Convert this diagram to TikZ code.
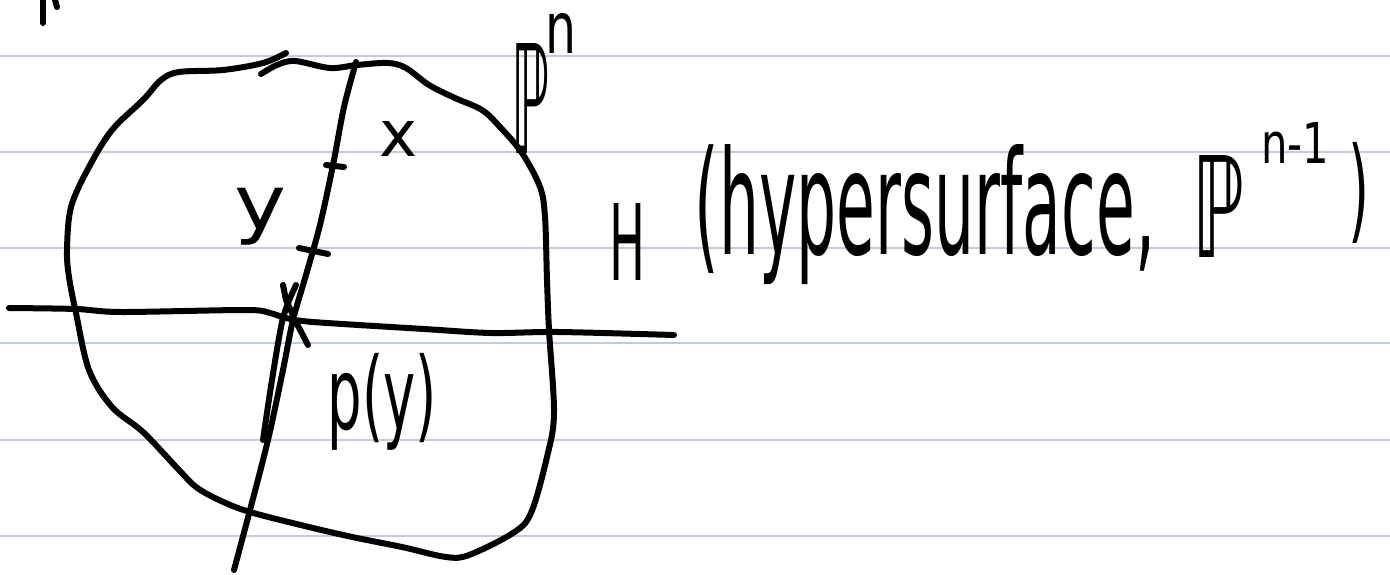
\documentclass[tikz,border=0pt]{standalone}
\usepackage{fontspec}
\setmainfont{DejaVu Sans}
\usepackage{graphicx}
\definecolor{ruleblue}{HTML}{BFCCDD}
\newcommand{\fitbox}[3]{\resizebox*{#1pt}{#2pt}{#3}}
\tikzset{
  ink/.style={line width=6pt, line cap=round, line join=round, draw=black},
  ruled/.style={line width=2pt, draw=ruleblue},
  lbl/.style={inner sep=0pt, outer sep=0pt, anchor=center}
}
\begin{document}
\begin{tikzpicture}[x=1pt,y=-1pt]
\useasboundingbox (0,0) rectangle (1390,575);
\fill[white] (0,0) rectangle (1390,575);
% ruled paper
\foreach \yy in {56,152,248,343,440,536} \draw[ruled] (0,\yy) -- (1390,\yy);
% cut-off remnants at top left
\draw[ink] (43,0) -- (43,23);
\draw[ink] (55,0) -- (57,7);
% closed outline (P^n)
\draw[ink] plot[smooth, tension=0.55] coordinates {
 (261,74) (277,65) (295,61) (330,68) (357,65) (388,63) (406,68) (429,85)
 (455,98) (482,110) (500,127) (522,153) (540,187) (545,217) (547,280)
 (549,330) (554,413) (547,457) (531,513) (513,533) (469,555) (446,557)
 (402,547) (357,538) (313,528) (250,512) (219,500) (196,487) (179,470)
 (143,432) (112,407) (89,370) (76,313) (69,277) (67,250) (71,207) (89,167)
 (112,130) (143,100) (161,80) (179,72) (223,70) (263,63) (286,53)};
% line through x and y
\draw[ink] plot[smooth, tension=0.5] coordinates {
 (356,62) (344,107) (333,165) (320,225) (306,275) (293,320) (283,370)
 (268,440) (250,510) (234,570)};
\draw[ink] plot[smooth, tension=0.5] coordinates {(263,440) (272,380) (283,318) (296,285)};
% X mark at intersection
\draw[ink] (283,285) -- (286,300) -- (296,322) -- (308,345);
% tick marks
\draw[ink] (326,165) -- (344,167);
\draw[ink] (299,248) -- (328,254);
% hyperplane H
\draw[ink] plot[smooth, tension=0.5] coordinates {
 (9,308) (76,309) (121,312) (246,310) (270,313) (286,318) (313,322)
 (424,329) (491,333) (558,332) (674,335)};
% labels
\node[lbl] (lx) at (398,139.5) {\fitbox{38}{35}{x}};
\node[lbl] (ly) at (260,216.5) {\fitbox{52}{57}{y}};
\node[lbl] (lP) at (530,98) {\fitbox{38}{110}{ℙ}};
\node[lbl] (ln) at (560.5,33) {\fitbox{31}{40}{n}};
\node[lbl] (lH) at (627,241.5) {\fitbox{36}{77}{H}};
\node[lbl] (lhs) at (925,215) {\fitbox{460}{140}{(hypersurface,}};
\node[lbl] (lP2) at (1218,206) {\fitbox{52}{102}{ℙ}};
\node[lbl] (ln1) at (1295,142.5) {\fitbox{68}{41}{n-1}};
\node[lbl] (lrp) at (1358.5,192.5) {\fitbox{21}{101}{)}};
\node[lbl] (lpy) at (382.5,401.5) {\fitbox{109}{97}{p(y)}};
\end{tikzpicture}
\end{document}
